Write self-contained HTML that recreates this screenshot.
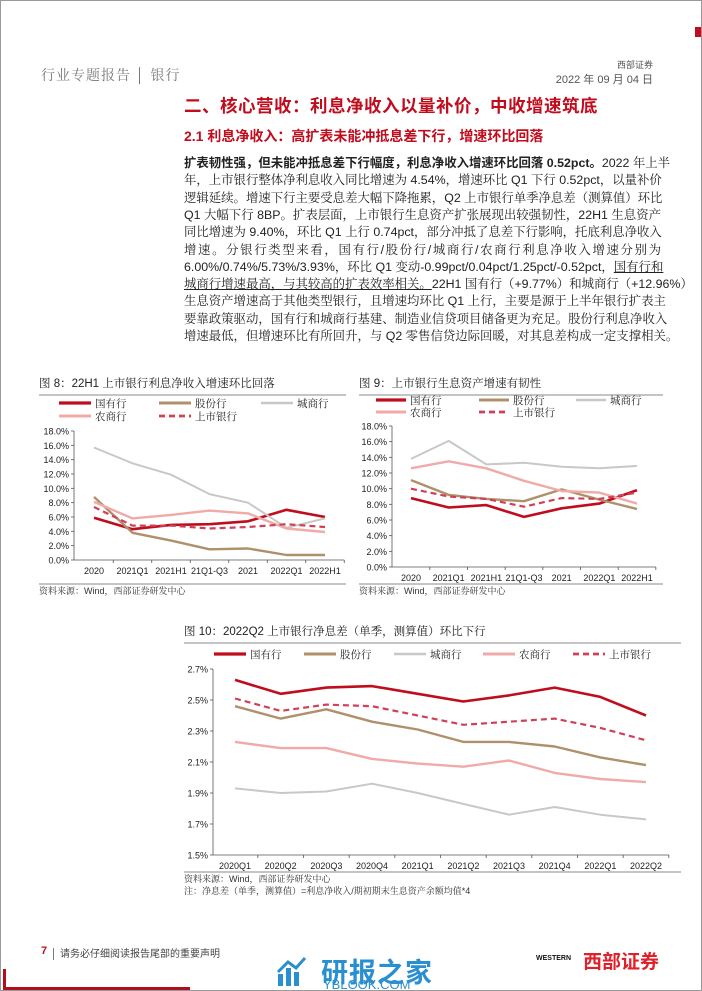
<!DOCTYPE html>
<html><head><meta charset="utf-8">
<style>
body{margin:0;background:#fff;}
#page{position:relative;width:702px;height:991px;overflow:hidden;background:#fff;font-family:"Liberation Sans","Noto Sans CJK SC",sans-serif;color:#222;box-sizing:border-box;border:1px solid #999;}
.a{position:absolute;white-space:nowrap;}
.ln{position:absolute;left:183px;width:477px;font-size:12.4px;line-height:17px;text-align:justify;text-align-last:justify;text-justify:inter-character;white-space:nowrap;color:#222;font-family:"Liberation Sans","Noto Serif CJK SC",serif;}
.b{font-weight:bold;font-family:"Liberation Sans","Noto Sans CJK SC",sans-serif;}
.u{text-decoration:underline;}
svg text{font-family:"Liberation Sans","Noto Serif CJK SC",serif;}
</style></head><body>
<div id="page">
<div class="a" style="left:694px;top:26px;width:8px;height:10px;background:#c00d1e"></div>
<div class="a" style="left:40px;top:64px;font-size:14px;color:#777;letter-spacing:1px;font-family:'Liberation Sans','Noto Serif CJK SC',serif">行业专题报告 │ 银行</div>
<div class="a" style="right:48px;top:57px;font-size:9px;color:#555">西部证券</div>
<div class="a" style="right:48px;top:70px;font-size:11px;color:#555">2022 年 09 月 04 日</div>
<div class="a" style="left:183px;top:92px;font-size:17.5px;font-weight:bold;color:#c00d1e;letter-spacing:0.5px">二、核心营收：利息净收入以量补价，中收增速筑底</div>
<div class="a" style="left:183px;top:125px;font-size:14px;font-weight:bold;color:#c00d1e">2.1 利息净收入：高扩表未能冲抵息差下行，增速环比回落</div>
<div>
<div class="ln" style="top:154px"><span class="b">扩表韧性强，但未能冲抵息差下行幅度，利息净收入增速环比回落 0.52pct。</span>2022 年上半</div>
<div class="ln" style="top:171px">年，上市银行整体净利息收入同比增速为 4.54%，增速环比 Q1 下行 0.52pct，以量补价</div>
<div class="ln" style="top:189px">逻辑延续。增速下行主要受息差大幅下降拖累，Q2 上市银行单季净息差（测算值）环比</div>
<div class="ln" style="top:206px">Q1 大幅下行 8BP。扩表层面，上市银行生息资产扩张展现出较强韧性，22H1 生息资产</div>
<div class="ln" style="top:223px">同比增速为 9.40%，环比 Q1 上行 0.74pct，部分冲抵了息差下行影响，托底利息净收入</div>
<div class="ln" style="top:241px">增速。分银行类型来看，国有行/股份行/城商行/农商行利息净收入增速分别为</div>
<div class="ln" style="top:258px">6.00%/0.74%/5.73%/3.93%，环比 Q1 变动-0.99pct/0.04pct/1.25pct/-0.52pct，<span class="u">国有行和</span></div>
<div class="ln" style="top:275px"><span class="u">城商行增速最高，与其较高的扩表效率相关。</span>22H1 国有行（+9.77%）和城商行（+12.96%）</div>
<div class="ln" style="top:292px">生息资产增速高于其他类型银行，且增速均环比 Q1 上行，主要是源于上半年银行扩表主</div>
<div class="ln" style="top:310px">要靠政策驱动，国有行和城商行基建、制造业信贷项目储备更为充足。股份行利息净收入</div>
<div class="ln" style="top:327px;width:470px">增速最低，但增速环比有所回升，与 Q2 零售信贷边际回暖，对其息差构成一定支撑相关。</div>
</div>
<svg id="charts" width="702" height="991" style="position:absolute;left:0;top:0"></svg>
<div class="a" style="left:40px;top:944px;font-size:11px;color:#c00d1e;font-weight:bold">7</div>
<div class="a" style="left:50px;top:944px;font-size:10px;color:#444">│ 请务必仔细阅读报告尾部的重要声明</div>
<div class="a" style="left:2px;top:968px;width:3px;height:22px;background:#b0101e"></div>
<div class="a" style="left:2px;top:986px;width:187px;height:4px;background:#b0101e"></div>
<div class="a" style="left:275px;top:955px;width:30px;height:30px">
<svg width="30" height="30"><rect x="2" y="18" width="5" height="12" fill="#2a8fd0"/><rect x="10" y="12" width="5" height="18" fill="#2a8fd0"/><rect x="18" y="16" width="5" height="14" fill="#2a8fd0"/><path d="M2 16 L12 6 L20 12 L29 2" stroke="#2a8fd0" stroke-width="3" fill="none"/></svg></div>
<div class="a" style="left:320px;top:950px;font-size:27px;color:#2a8fd0;font-weight:bold;letter-spacing:1px">研报之家</div>
<div class="a" style="left:322px;top:976px;font-size:13px;color:#2a8fd0">YBLOOK.COM</div>
<div class="a" style="left:535px;top:954px;font-size:7px;font-weight:bold;color:#111">WESTERN</div>
<div class="a" style="left:582px;top:946px;font-size:19px;font-weight:bold;color:#e0202a">西部证券</div>
</div>
<script>
// Chart 8 data
const c8Categories = ["2020","2021Q1","2021H1","21Q1-Q3","2021","2022Q1","2022H1"];
const c8Guoyou = [5.9,4.3,4.9,5.0,5.4,7.0,6.0];
const c8Gufen = [8.8,3.8,2.7,1.5,1.6,0.7,0.7];
const c8Chengshang = [15.7,13.5,11.9,9.2,8.0,4.5,5.8];
const c8Nongshang = [8.1,5.8,6.3,6.9,6.5,4.4,3.9];
const c8Listed = [7.4,4.8,4.8,4.4,4.6,5.0,4.6];
const c8Ticks = ["0.0%","2.0%","4.0%","6.0%","8.0%","10.0%","12.0%","14.0%","16.0%","18.0%"];
// Chart 9 data
const c9Categories = ["2020","2021Q1","2021H1","21Q1-Q3","2021","2022Q1","2022H1"];
const c9Guoyou = [8.8,7.6,7.9,6.4,7.5,8.1,9.8];
const c9Gufen = [11.1,9.2,8.7,8.4,9.9,8.6,7.4];
const c9Chengshang = [13.8,16.1,13.1,13.3,12.8,12.6,12.9];
const c9Nongshang = [12.6,13.5,12.6,11.0,9.7,9.5,8.1];
const c9Listed = [10.0,9.0,8.7,7.7,8.8,8.7,9.5];
const c9Ticks = ["0.0%","2.0%","4.0%","6.0%","8.0%","10.0%","12.0%","14.0%","16.0%","18.0%"];
// Chart 10 data
const c10Categories = ["2020Q1","2020Q2","2020Q3","2020Q4","2021Q1","2021Q2","2021Q3","2021Q4","2022Q1","2022Q2"];
const c10Guoyou = [2.63,2.54,2.58,2.59,2.54,2.49,2.53,2.58,2.52,2.40];
const c10Gufen = [2.46,2.38,2.44,2.36,2.31,2.23,2.23,2.20,2.13,2.08];
const c10Chengshang = [1.93,1.90,1.91,1.96,1.90,1.83,1.76,1.81,1.76,1.73];
const c10Nongshang = [2.23,2.19,2.19,2.12,2.09,2.07,2.11,2.03,1.99,1.97];
const c10Listed = [2.51,2.43,2.47,2.46,2.40,2.34,2.36,2.38,2.32,2.24];
const c10Ticks = ["1.5%","1.7%","1.9%","2.1%","2.3%","2.5%","2.7%"];
const seriesNames = ["国有行","股份行","城商行","农商行","上市银行"];

const NS="http://www.w3.org/2000/svg";
const svg=document.getElementById('charts');
const styles=[{c:"#c00d1e",w:2.6,d:""},{c:"#b0906a",w:2.4,d:""},{c:"#c8c8c8",w:2,d:""},{c:"#f0aaa8",w:2.4,d:""},{c:"#d04058",w:2.2,d:"6,4"}];
function mk(tag,attrs,parent){const e=document.createElementNS(NS,tag);for(const k in attrs)e.setAttribute(k,attrs[k]);(parent||svg).appendChild(e);return e;}
function txt(x,y,s,size,anchor,fill,parent){const t=mk('text',{x:x,y:y,'font-size':size,'text-anchor':anchor||'start',fill:fill||'#222'},parent);t.textContent=s;return t;}

function drawChart(cfg){
  const g=mk('g',{});
  
  
  const t=txt(cfg.titleX,cfg.titleY,cfg.title,11.5,'start','#222',g);
  
  
  mk('line',{x1:cfg.titleX,x2:cfg.right,y1:cfg.titleY+8,y2:cfg.titleY+8,stroke:'#888','stroke-width':1},g);
  const n=cfg.cats.length;
  const step=(cfg.x1-cfg.x0)/(n-1);
  const xs=i=>cfg.x0+i*step;
  const ys=v=>cfg.yb-(v-cfg.vmin)/(cfg.vmax-cfg.vmin)*(cfg.yb-cfg.yt);
  const ax=mk('g',{},g);
  
  
  mk('line',{x1:cfg.ax,x2:cfg.ax,y1:cfg.yt,y2:cfg.yb,stroke:'#555','stroke-width':0.8},ax);
  mk('line',{x1:cfg.ax,x2:cfg.x1+step/2,y1:cfg.yb,y2:cfg.yb,stroke:'#555','stroke-width':0.8},ax);
  cfg.ticks.forEach(tl=>{const v=parseFloat(tl);const y=ys(v);
    mk('line',{x1:cfg.ax-3,x2:cfg.ax,y1:y,y2:y,stroke:'#555','stroke-width':0.8},ax);
    const tt=txt(cfg.ax-5,y+3.5,tl,cfg.tickSize,'end','#222',ax);
    
    
  });
  cfg.cats.forEach((c,i)=>{
    mk('line',{x1:xs(i)+step/2,x2:xs(i)+step/2,y1:cfg.yb,y2:cfg.yb+3,stroke:'#555','stroke-width':0.8},ax);
    const tt=txt(xs(i),cfg.xlY,c,cfg.tickSize,'middle','#222',ax);
    
    
  });
  cfg.series.forEach((arr,si)=>{
    const st=styles[si];
    const d=arr.map((v,i)=>(i?'L':'M')+xs(i).toFixed(1)+' '+ys(v).toFixed(1)).join(' ');
    const p=mk('path',{d:d,fill:'none',stroke:st.c,'stroke-width':st.w,'stroke-dasharray':st.d,'stroke-linejoin':'round'},g);
    
    
  });
  cfg.legend.forEach((L,si)=>{
    const st=styles[si];
    const lg=mk('g',{},g);
    
    
    mk('line',{x1:L[0],x2:L[0]+cfg.legLen,y1:L[1],y2:L[1],stroke:st.c,'stroke-width':st.w+0.6,'stroke-dasharray':st.d},lg);
    txt(L[0]+cfg.legLen+4,L[1]+4,seriesNames[si],10.5,'start','#222',lg);
  });
  mk('line',{x1:cfg.titleX,x2:cfg.right,y1:cfg.srcY-10,y2:cfg.srcY-10,stroke:'#888','stroke-width':1},g);
  const s=txt(cfg.titleX,cfg.srcY,'资料来源：Wind，西部证券研发中心',9,'start','#333',g);
  
  
  if(cfg.note){const nn=txt(cfg.titleX,cfg.srcY+12,cfg.note,9,'start','#333',g);
    
    }
}
drawChart({name:'chart-nii-growth',title:'图 8：22H1 上市银行利息净收入增速环比回落',titleX:38,titleY:386,right:345,
  cats:c8Categories,series:[c8Guoyou,c8Gufen,c8Chengshang,c8Nongshang,c8Listed],ticks:c8Ticks,
  x0:93,x1:324,ax:73,yt:430,yb:559,vmin:0,vmax:18,xlY:573,tickSize:9,
  legLen:32,legend:[[58,402],[158,402],[260,402],[58,415],[158,415]],srcY:593});
drawChart({name:'chart-asset-growth',title:'图 9：上市银行生息资产增速有韧性',titleX:358,titleY:386,right:662,
  cats:c9Categories,series:[c9Guoyou,c9Gufen,c9Chengshang,c9Nongshang,c9Listed],ticks:c9Ticks,
  x0:410,x1:636,ax:391,yt:425,yb:566,vmin:0,vmax:18,xlY:580,tickSize:9,
  legLen:30,legend:[[375,399],[478,399],[575,399],[375,411],[478,411]],srcY:593});
drawChart({name:'chart-nim',title:'图 10：2022Q2 上市银行净息差（单季，测算值）环比下行',titleX:183,titleY:634,right:680,
  cats:c10Categories,series:[c10Guoyou,c10Gufen,c10Chengshang,c10Nongshang,c10Listed],ticks:c10Ticks,
  x0:234,x1:645,ax:212,yt:668,yb:854,vmin:1.5,vmax:2.7,xlY:868,tickSize:9,
  legLen:32,legend:[[213,653],[303,653],[393,653],[482,653],[572,653]],srcY:881,
  note:'注：净息差（单季，测算值）=利息净收入/期初期末生息资产余额均值*4'});
</script>
</body></html>
